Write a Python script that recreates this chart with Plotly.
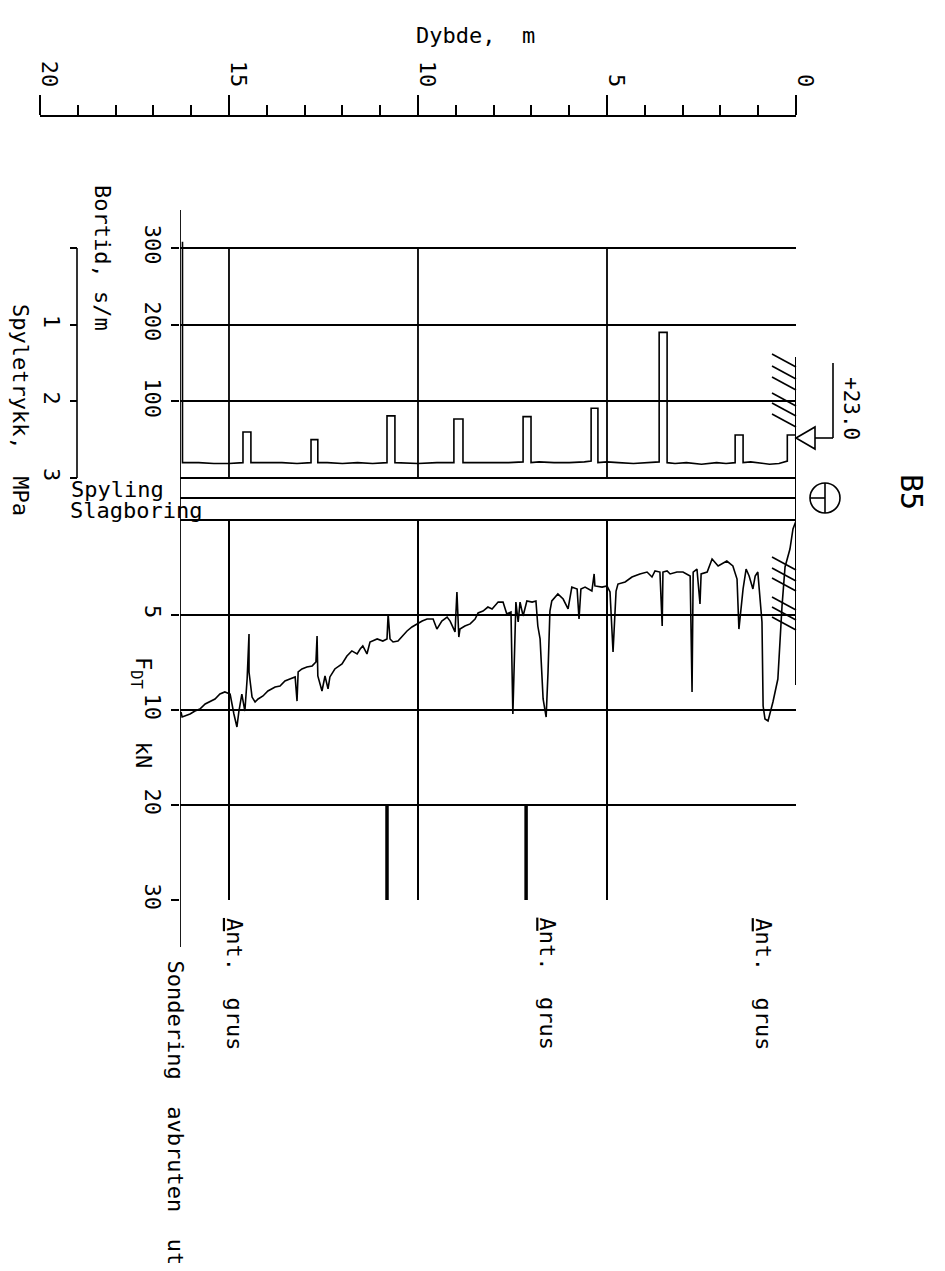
import plotly.graph_objects as go

# ---------------- data ----------------
# Bortid (penetration time), s/m, vs depth (m)
bortid_depth = [0.00, 0.23, 0.23, 0.45, 0.70, 1.00, 1.20, 1.40, 1.40, 1.61,
                1.61, 1.85, 2.10, 2.50, 2.90, 3.20, 3.41, 3.41, 3.62, 3.62,
                3.90, 4.30, 4.70, 5.00, 5.24, 5.24, 5.42, 5.42, 5.60, 6.00,
                6.40, 6.80, 7.01, 7.01, 7.22, 7.22, 7.60, 8.00, 8.40, 8.81,
                8.81, 9.05, 9.05, 9.50, 10.00, 10.40, 10.61, 10.61, 10.82, 10.82,
                11.20, 11.60, 12.00, 12.40, 12.65, 12.65, 12.83, 12.83, 13.20, 13.60,
                14.00, 14.42, 14.42, 14.63, 14.63, 15.00, 15.40, 15.80, 16.23, 16.23]
bortid = [56, 56, 22, 19, 18, 20, 21, 20, 56, 56,
          20, 19, 20, 18, 20, 19, 20, 190, 190, 21,
          20, 19, 20, 21, 20, 91, 91, 22, 21, 20,
          20, 21, 20, 80, 80, 21, 20, 20, 20, 20,
          77, 77, 20, 20, 19, 20, 20, 81, 81, 20,
          19, 20, 19, 20, 20, 50, 50, 20, 19, 20,
          20, 20, 60, 60, 20, 19, 19, 20, 20, 308]

# F_DT (push force), kN, vs depth (m)
fdt_depth = [0.00, 0.08, 0.16, 0.29, 0.37, 0.48, 0.61, 0.74, 0.82, 0.87,
             0.90, 1.01, 1.08, 1.14, 1.24, 1.32, 1.40, 1.51, 1.56, 1.67,
             1.83, 2.06, 2.22, 2.35, 2.51, 2.54, 2.62, 2.72, 2.75, 2.80,
             2.99, 3.15, 3.33, 3.41, 3.52, 3.54, 3.60, 3.73, 3.81, 3.94,
             4.13, 4.34, 4.52, 4.71, 4.76, 4.84, 4.92, 5.00, 5.13, 5.32,
             5.34, 5.40, 5.58, 5.69, 5.74, 5.79, 5.93, 6.03, 6.16, 6.30,
             6.46, 6.51, 6.56, 6.61, 6.69, 6.77, 6.83, 6.88, 6.98, 7.12,
             7.22, 7.30, 7.35, 7.41, 7.49, 7.54, 7.65, 7.75, 7.88, 8.04,
             8.15, 8.28, 8.41, 8.49, 8.62, 8.76, 8.89, 8.92, 8.97, 9.02,
             9.15, 9.23, 9.37, 9.50, 9.60, 9.76, 9.89, 10.03, 10.16, 10.29,
             10.40, 10.53, 10.66, 10.74, 10.79, 10.82, 10.93, 11.08, 11.27, 11.35,
             11.46, 11.53, 11.61, 11.75, 11.88, 12.01, 12.20, 12.33, 12.38, 12.46,
             12.54, 12.65, 12.67, 12.70, 12.80, 12.94, 13.07, 13.17, 13.20, 13.25,
             13.39, 13.52, 13.65, 13.78, 13.97, 14.10, 14.23, 14.31, 14.39, 14.47,
             14.47, 14.52, 14.58, 14.66, 14.74, 14.79, 14.87, 14.97, 15.11, 15.24,
             15.37, 15.50, 15.63, 15.77, 15.90, 16.03, 16.16, 16.24, 16.27]
fdt = [0.05, 0.47, 1.53, 2.47, 4.53, 8.37, 9.58, 11.16, 10.95, 9.79,
       5.37, 2.74, 2.95, 3.63, 2.95, 2.58, 3.63, 5.74, 3.11, 2.42,
       2.16, 2.42, 2.05, 2.74, 2.84, 4.42, 2.58, 2.74, 9.05, 2.95,
       2.74, 2.74, 2.84, 2.68, 2.74, 5.58, 2.74, 2.68, 3.00, 2.74,
       2.84, 3.00, 3.26, 3.37, 3.74, 6.95, 3.79, 3.47, 3.53, 3.47,
       2.84, 3.74, 3.53, 3.63, 5.21, 3.63, 3.53, 4.68, 4.16, 3.89,
       4.26, 4.79, 8.00, 10.74, 9.42, 6.26, 5.58, 4.26, 4.32, 4.26,
       5.05, 4.32, 5.37, 4.32, 10.42, 4.84, 4.95, 4.32, 4.32, 4.68,
       4.58, 4.79, 4.89, 5.21, 5.47, 5.58, 5.74, 6.16, 3.79, 5.89,
       5.32, 5.11, 5.32, 5.74, 5.21, 5.21, 5.32, 5.47, 5.63, 5.84,
       6.11, 6.37, 6.42, 6.26, 4.95, 6.26, 6.37, 6.26, 6.42, 7.05,
       6.63, 6.79, 7.05, 6.89, 7.16, 7.58, 7.84, 8.26, 8.89, 8.21,
       9.00, 8.21, 6.11, 7.47, 7.68, 7.74, 7.84, 8.00, 9.53, 8.26,
       8.37, 8.47, 8.74, 8.79, 9.00, 9.26, 9.42, 9.58, 9.32, 8.00,
       6.00, 8.37, 10.11, 9.16, 10.21, 11.79, 10.42, 9.16, 9.05, 9.16,
       9.42, 9.53, 9.68, 9.95, 10.11, 10.42, 10.63, 10.74, 10.21]

marker_depths = [7.14, 10.82]          # thick marks in the 20-30 kN column
gravel_depths = [0.85, 6.55, 14.84]    # "Ant. grus" interpretations
gravel_label = "<u>A</u>nt.  grus"
stop_depth = 16.296                    # end of sounding (left frame)
grid_depths = [5, 10, 15]
bortid_ticks = [100, 200, 300]
spyle_ticks = [0, 1, 2, 3]
spyle_text = [" ", "1", "2", "3"]
fdt_ticks = [5, 10, 20, 30]
ruler_ticks = [0, 5, 10, 15, 20]
ruler_minor = list(range(0, 21))
elevation_text = "+23.0"
hole_name = "B5"

# ---------------- helpers ----------------
W, H = 945, 1271
FONT = "DejaVu Sans Mono"


def px(x):
    return x / W


def py(y):
    return 1 - y / H


def fdt_pos(v):
    # F_DT axis: linear 0-10 kN, then half scale 10-30 kN
    return v if v <= 10 else 10 + (v - 10) / 2.0


def seg(x0, y0, x1, y1, w=1.8):
    return dict(type="line", xref="paper", yref="paper",
                x0=px(x0), y0=py(y0), x1=px(x1), y1=py(y1),
                line=dict(color="black", width=w))


fig = go.Figure()

fig.add_trace(go.Scatter(x=bortid_depth, y=bortid, mode="lines",
                         line=dict(color="black", width=1.6),
                         xaxis="x", yaxis="y", hoverinfo="skip"))
fig.add_trace(go.Scatter(x=fdt_depth, y=[fdt_pos(v) for v in fdt], mode="lines",
                         line=dict(color="black", width=1.6),
                         xaxis="x2", yaxis="y4", hoverinfo="skip"))
mx, my = [], []
for d in marker_depths:
    mx += [d, d, None]
    my += [fdt_pos(20), fdt_pos(30), None]
fig.add_trace(go.Scatter(x=mx, y=my, mode="lines",
                         line=dict(color="black", width=3.5),
                         xaxis="x2", yaxis="y4", hoverinfo="skip"))
# empty trace so that the depth ruler subplot is created
fig.add_trace(go.Scatter(x=[None], y=[None], mode="lines", xaxis="x3", yaxis="y5",
                         hoverinfo="skip"))

xdom = [px(180), px(796)]
bortid_top = (478 - 210) * 300 / 230.0
spyle_top = -(248 - 210) * 3 / 230.0
tickfont = dict(family=FONT, size=22, color="black")

fig.update_layout(
    template="none",
    width=W, height=H, margin=dict(l=0, r=0, t=0, b=0, pad=0, autoexpand=False),
    paper_bgcolor="white", plot_bgcolor="white", showlegend=False,
    font=dict(family=FONT, size=22, color="black"),
    xaxis=dict(domain=xdom, range=[stop_depth, 0], anchor="y", showgrid=False,
               zeroline=False, showticklabels=False, ticks="", showline=False,
               automargin=False),
    xaxis2=dict(domain=xdom, range=[stop_depth, 0], anchor="y4", matches="x",
                showgrid=True, gridcolor="black", gridwidth=1.8,
                tickmode="array", tickvals=grid_depths, showticklabels=False,
                ticks="", zeroline=False, showline=False, automargin=False),
    xaxis3=dict(domain=[px(40), px(796)], range=[20, 0], anchor="y5", side="top",
                showline=True, linecolor="black", linewidth=2,
                ticks="outside", ticklen=20, tickwidth=1.5, tickcolor="black",
                tickmode="array", tickvals=ruler_ticks,
                minor=dict(ticks="outside", ticklen=10, tickwidth=1.5,
                           tickcolor="black", tickmode="array", tickvals=ruler_minor,
                           showgrid=False),
                showgrid=False, zeroline=False, tickangle=90, tickfont=tickfont,
                ticklabelshift=-9, automargin=False),
    yaxis=dict(domain=[py(478), py(210)], range=[0, bortid_top], anchor="x",
               tickmode="array", tickvals=bortid_ticks, ticks="outside", ticklen=8,
               tickwidth=1.8, tickcolor="black", showgrid=True, gridcolor="black",
               gridwidth=1.8, zeroline=False, showline=False, tickangle=90,
               tickfont=tickfont, automargin=False),
    yaxis2=dict(overlaying="y", anchor="free", position=px(77), side="left",
                range=[3, spyle_top], tickmode="array", tickvals=spyle_ticks,
                ticktext=spyle_text, ticks="outside", ticklen=7, tickwidth=1.5,
                tickcolor="black", showgrid=False, zeroline=False, showline=False,
                tickangle=90, tickfont=tickfont, automargin=False),
    yaxis3=dict(overlaying="y", anchor="free", position=px(77), side="right",
                range=[3, spyle_top], tickmode="array", tickvals=spyle_ticks,
                ticks="outside", ticklen=7, tickwidth=1.5, tickcolor="black",
                showticklabels=False, showgrid=False, zeroline=False, showline=False,
                automargin=False),
    yaxis4=dict(domain=[py(900), py(520)], range=[fdt_pos(30), 0], anchor="x2",
                tickmode="array", tickvals=[fdt_pos(v) for v in fdt_ticks],
                ticktext=[str(v) for v in fdt_ticks], ticks="outside", ticklen=8,
                tickwidth=1.8, tickcolor="black", showgrid=True, gridcolor="black",
                gridwidth=1.8, zeroline=False, showline=False, tickangle=90,
                tickfont=tickfont, automargin=False),
    yaxis5=dict(domain=[py(140), py(117)], anchor="x3", range=[0, 1],
                showgrid=False, zeroline=False, showline=False, ticks="",
                showticklabels=False, automargin=False),
)

shapes = []
# left frame (end of sounding) and continuation line
shapes.append(dict(type="line", xref="x", yref="paper", x0=stop_depth, x1=stop_depth,
                   y0=py(210), y1=py(947), line=dict(color="black", width=1.8)))
# band lines: bottom of bortid, Spyling/Slagboring separator, top of F_DT
for yb in (478, 498, 520):
    shapes.append(dict(type="line", xref="x domain", yref="paper", x0=0, x1=1,
                       y0=py(yb), y1=py(yb), line=dict(color="black", width=1.8)))
# vertical depth grid in the bortid panel (0-300 s/m)
for d in grid_depths:
    shapes.append(dict(type="line", xref="x", yref="y", x0=d, x1=d, y0=0, y1=300,
                       line=dict(color="black", width=1.8)))
# terrain line at depth 0
shapes.append(dict(type="line", xref="x", yref="paper", x0=0, x1=0,
                   y0=py(357), y1=py(685), line=dict(color="black", width=2)))
# Spyletrykk axis line
shapes.append(dict(type="line", xref="paper", yref="y2", x0=px(77), x1=px(77),
                   y0=0, y1=3, line=dict(color="black", width=1.6)))
# terrain hatching
for y0 in (354, 366, 377, 393, 403, 414, 557, 568, 578, 597, 607, 617):
    shapes.append(seg(772, y0, 796, y0 + 13, 1.6))
# elevation marker
shapes.append(seg(833, 363, 833, 438, 1.6))
shapes.append(seg(815, 438, 833, 438, 1.6))
shapes.append(dict(type="path", xref="paper", yref="paper",
                   path="M {} {} L {} {} L {} {} Z".format(px(796), py(438), px(815), py(427),
                                                       px(815), py(449)),
                   line=dict(color="black", width=1.6)))
# method symbol (circle)
shapes.append(dict(type="circle", xref="paper", yref="paper", x0=px(810), x1=px(840),
                   y0=py(513), y1=py(483), line=dict(color="black", width=1.6)))
shapes.append(seg(825, 483, 825, 513, 1.6))
shapes.append(seg(810, 498, 825, 498, 1.6))
fig.update_layout(shapes=shapes)

anns = []


def ann(text, x, y, size=22, angle=90, xanchor="center", yanchor="middle",
        xref="paper", xshift=0):
    anns.append(dict(text=text, x=x if xref != "paper" else px(x), y=py(y),
                     xref=xref, yref="paper", showarrow=False, textangle=angle,
                     xanchor=xanchor, yanchor=yanchor, xshift=xshift,
                     font=dict(family=FONT, size=size, color="black")))


ann("Dybde,  m", 475, 35, angle=0)
ann("Bortid, s/m", 103, 258)
ann("Spyletrykk,  MPa", 20, 410)
ann("F<sub>DT</sub>    kN", 142, 712)
ann("Spyling", 69, 490, angle=0, xanchor="left")
ann("Slagboring", 68, 510, angle=0, xanchor="left")
ann(hole_name, 912, 492, size=30)
ann(elevation_text, 851, 408, size=21)
for d in gravel_depths:
    ann(gravel_label, d, 916, xref="x", yanchor="top")
ann("Sondering  avbruten  ut", stop_depth, 958, xref="x", yanchor="top", xshift=-5)
fig.update_layout(annotations=anns)

fig.write_html("out.html")
